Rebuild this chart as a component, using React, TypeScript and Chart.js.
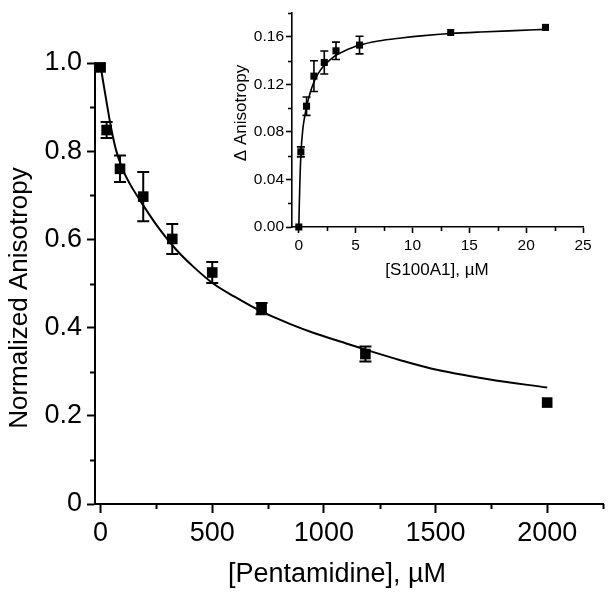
import React, { useEffect, useRef } from 'react';
import { Chart, registerables } from 'chart.js';

Chart.register(...registerables);

const FONT = "'Liberation Sans', Arial, Helvetica, sans-serif";

// ---------- Main chart data: Normalized anisotropy vs [Pentamidine] ----------
const pentX = [0, 27, 87, 191, 321, 500, 721, 1186, 2000];
const pentY = [0.99, 0.848, 0.76, 0.697, 0.601, 0.525, 0.443, 0.34, 0.23];
const pentErr = [0, 0.018, 0.03, 0.056, 0.034, 0.024, 0.013, 0.017, 0];
const pentFitX = [0, 10, 20, 35, 49, 69, 98, 130, 176, 250, 340, 420, 504, 600, 722, 850, 949, 1100, 1186, 1350, 1475, 1737, 2000];
const pentFitY = [0.995, 0.962, 0.932, 0.887, 0.848, 0.803, 0.76, 0.727, 0.689, 0.633, 0.576, 0.536, 0.5, 0.47, 0.436, 0.408, 0.389, 0.364, 0.35, 0.325, 0.308, 0.283, 0.264];
const mainXTicks = [0, 500, 1000, 1500, 2000];
const mainXMinor = [250, 750, 1250, 1750, 2250];
const mainYTicks = [0, 0.2, 0.4, 0.6, 0.8, 1.0];
const mainYMinor = [0.1, 0.3, 0.5, 0.7, 0.9];

// ---------- Inset data: Δ anisotropy vs [S100A1] ----------
const s100X = [0, 0.18, 0.68, 1.33, 2.24, 3.27, 5.34, 13.36, 21.7];
const s100Y = [0, 0.0632, 0.1016, 0.1269, 0.1384, 0.1482, 0.153, 0.1636, 0.1679];
const s100Err = [0, 0.0042, 0.0077, 0.0129, 0.0097, 0.0073, 0.0074, 0, 0];
const s100FitX = [0, 0.05, 0.1, 0.2, 0.35, 0.5, 0.7, 1.0, 1.33, 1.7, 2.24, 2.8, 3.27, 4.0, 5.34, 7, 9, 11, 13.36, 16, 19, 21.7];
const s100FitY = [0, 0.022, 0.04, 0.064, 0.082, 0.092, 0.102, 0.113, 0.122, 0.129, 0.136, 0.141, 0.1445, 0.148, 0.153, 0.1565, 0.159, 0.161, 0.1627, 0.164, 0.1652, 0.1662];
const insetXTicks = [0, 5, 10, 15, 20, 25];
const insetXMinor = [2.5, 7.5, 12.5, 17.5, 22.5];
const insetYTicks = [0, 0.04, 0.08, 0.12, 0.16];
const insetYMinor = [0.02, 0.06, 0.1, 0.14, 0.18];

function makeErrorBars(dsIndex: number, errors: number[], cap: number, width: number) {
  return {
    id: 'errorBars',
    afterDatasetsDraw(chart: any) {
      const ds = chart.data.datasets[dsIndex];
      const xs = chart.scales.x;
      const ys = chart.scales.y;
      const ctx = chart.ctx;
      ctx.save();
      ctx.strokeStyle = '#000';
      ctx.lineWidth = width;
      ds.data.forEach((p: any, i: number) => {
        const e = errors[i];
        if (!e) return;
        const px = xs.getPixelForValue(p.x);
        const top = ys.getPixelForValue(p.y + e);
        const bot = ys.getPixelForValue(p.y - e);
        ctx.beginPath();
        ctx.moveTo(px, top);
        ctx.lineTo(px, bot);
        ctx.moveTo(px - cap, top);
        ctx.lineTo(px + cap, top);
        ctx.moveTo(px - cap, bot);
        ctx.lineTo(px + cap, bot);
        ctx.stroke();
      });
      ctx.restore();
    },
  };
}

function makeMinorTicks(xv: number[], yv: number[], len: number, width: number) {
  return {
    id: 'minorTicks',
    afterDraw(chart: any) {
      const { x: xs, y: ys } = chart.scales;
      const area = chart.chartArea;
      const ctx = chart.ctx;
      ctx.save();
      ctx.strokeStyle = '#000';
      ctx.lineWidth = width;
      ctx.beginPath();
      xv.forEach((v) => {
        const px = Math.round(xs.getPixelForValue(v)) + 0.5;
        ctx.moveTo(px, area.bottom);
        ctx.lineTo(px, area.bottom + len);
      });
      yv.forEach((v) => {
        const py = Math.round(ys.getPixelForValue(v)) + 0.5;
        ctx.moveTo(area.left, py);
        ctx.lineTo(area.left - len, py);
      });
      ctx.stroke();
      ctx.restore();
    },
  };
}

type TitleItem = { text: string; x: number; y: number; rot: boolean; size: number };
function makeTitles(items: TitleItem[]) {
  return {
    id: 'axisTitles',
    afterDraw(chart: any) {
      const ctx = chart.ctx;
      items.forEach((it) => {
        ctx.save();
        ctx.fillStyle = '#000';
        ctx.font = `${it.size}px ${FONT}`;
        ctx.textAlign = 'center';
        ctx.textBaseline = 'alphabetic';
        ctx.translate(it.x, it.y);
        if (it.rot) ctx.rotate(-Math.PI / 2);
        ctx.fillText(it.text, 0, 0);
        ctx.restore();
      });
    },
  };
}

function axisOpts(opts: {
  min: number; max: number; ticks: number[]; fontSize: number; tickLen: number; lineW: number;
  pad: number; fit: (s: any) => void; fmt: (v: number) => string;
}) {
  return {
    type: 'linear',
    min: opts.min,
    max: opts.max,
    afterBuildTicks: (s: any) => {
      s.ticks = opts.ticks.map((v) => ({ value: v }));
    },
    afterFit: opts.fit,
    ticks: {
      color: '#000',
      font: { family: FONT, size: opts.fontSize },
      padding: opts.pad,
      autoSkip: false,
      maxRotation: 0,
      callback: (v: any) => opts.fmt(Number(v)),
    },
    grid: {
      display: true,
      drawOnChartArea: false,
      drawTicks: true,
      tickLength: opts.tickLen,
      tickWidth: opts.lineW,
      tickColor: '#000',
      color: '#000',
    },
    border: { display: true, color: '#000', width: opts.lineW },
    title: { display: false },
  };
}

export default function App() {
  const mainRef = useRef<HTMLCanvasElement>(null);
  const insetRef = useRef<HTMLCanvasElement>(null);

  useEffect(() => {
    const mainChart = new Chart(mainRef.current as HTMLCanvasElement, {
      type: 'scatter',
      data: {
        datasets: [
          {
            label: 'data',
            data: pentX.map((x, i) => ({ x, y: pentY[i] })),
            pointStyle: 'rect',
            pointRadius: 7.5,
            backgroundColor: '#000',
            borderColor: '#000',
            borderWidth: 0,
            clip: false,
          },
          {
            label: 'fit',
            data: pentFitX.map((x, i) => ({ x, y: pentFitY[i] })),
            showLine: true,
            borderColor: '#000',
            borderWidth: 2,
            pointRadius: 0,
            cubicInterpolationMode: 'monotone',
            clip: false,
          },
        ],
      } as any,
      options: {
        animation: false,
        responsive: false,
        events: [],
        layout: { padding: { top: 63, right: 9, left: 0, bottom: 0 } },
        plugins: { legend: { display: false }, tooltip: { enabled: false } },
        scales: {
          x: axisOpts({
            min: -25, max: 2250, ticks: mainXTicks, fontSize: 27, tickLen: 9, lineW: 2, pad: 4,
            fit: (s: any) => { s.height = 94; },
            fmt: (v) => String(v),
          }),
          y: axisOpts({
            min: 0, max: 1.0, ticks: mainYTicks, fontSize: 27, tickLen: 8, lineW: 2, pad: 5,
            fit: (s: any) => { s.width = 95; },
            fmt: (v) => (v === 0 ? '0' : v.toFixed(1)),
          }),
        } as any,
      },
      plugins: [
        makeErrorBars(0, pentErr, 6, 2),
        makeMinorTicks(mainXMinor, mainYMinor, 5, 2),
        makeTitles([
          { text: '[Pentamidine], \u00b5M', x: 337, y: 582, rot: false, size: 27 },
          { text: 'Normalized Anisotropy', x: 26.5, y: 298, rot: true, size: 26 },
        ]),
      ],
    } as any);

    const insetChart = new Chart(insetRef.current as HTMLCanvasElement, {
      type: 'scatter',
      data: {
        datasets: [
          {
            label: 'data',
            data: s100X.map((x, i) => ({ x, y: s100Y[i] })),
            pointStyle: 'rect',
            pointRadius: 5,
            backgroundColor: '#000',
            borderColor: '#000',
            borderWidth: 0,
            clip: false,
          },
          {
            label: 'fit',
            data: s100FitX.map((x, i) => ({ x, y: s100FitY[i] })),
            showLine: true,
            borderColor: '#000',
            borderWidth: 1.6,
            pointRadius: 0,
            cubicInterpolationMode: 'monotone',
            clip: false,
          },
        ],
      } as any,
      options: {
        animation: false,
        responsive: false,
        events: [],
        layout: { padding: { top: 13, right: 29, left: 0, bottom: 0 } },
        plugins: { legend: { display: false }, tooltip: { enabled: false } },
        scales: {
          x: axisOpts({
            min: -0.6, max: 25, ticks: insetXTicks, fontSize: 15.5, tickLen: 6, lineW: 1.6, pad: 3,
            fit: (s: any) => { s.height = 73; },
            fmt: (v) => String(v),
          }),
          y: axisOpts({
            min: 0, max: 0.18, ticks: insetYTicks, fontSize: 15.5, tickLen: 6, lineW: 1.6, pad: 2,
            fit: (s: any) => { s.width = 72; },
            fmt: (v) => v.toFixed(2),
          }),
        } as any,
      },
      plugins: [
        makeErrorBars(0, s100Err, 4, 1.6),
        makeMinorTicks(insetXMinor, insetYMinor, 4, 1.6),
        makeTitles([
          { text: '[S100A1], \u00b5M', x: 217, y: 275, rot: false, size: 17 },
          { text: '\u0394 Anisotropy', x: 26, y: 113, rot: true, size: 17 },
        ]),
      ],
    } as any);

    return () => {
      mainChart.destroy();
      insetChart.destroy();
    };
  }, []);

  return (
    <div style={{ position: 'absolute', left: 0, top: 0, width: 612, height: 598, background: '#fff' }}>
      <canvas
        ref={mainRef}
        width={612}
        height={598}
        style={{ position: 'absolute', left: 0, top: 0, width: 612, height: 598 }}
      />
      <canvas
        ref={insetRef}
        width={392}
        height={300}
        style={{ position: 'absolute', left: 220, top: 0, width: 392, height: 300 }}
      />
    </div>
  );
}
